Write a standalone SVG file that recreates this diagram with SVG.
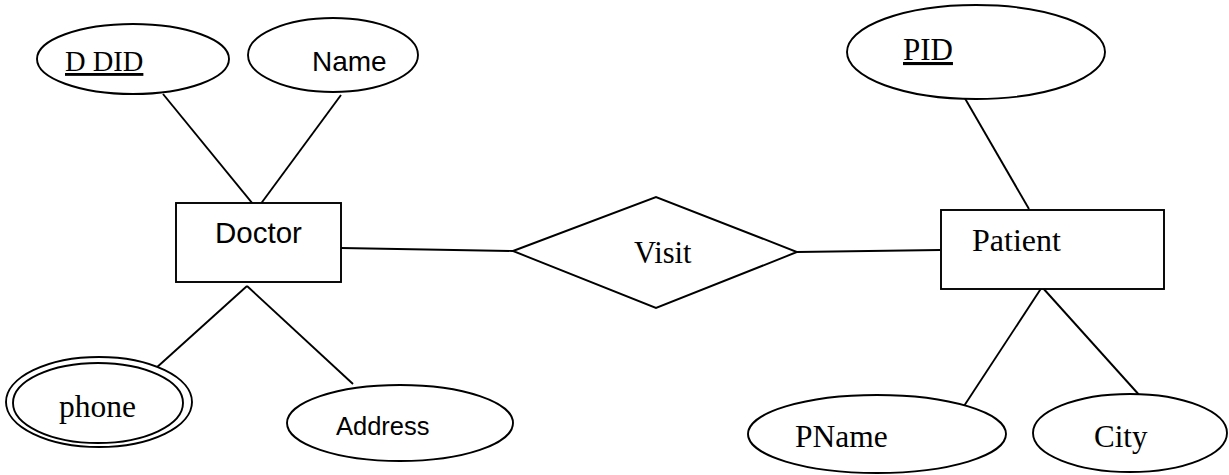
<svg xmlns="http://www.w3.org/2000/svg" width="1229" height="475" viewBox="0 0 1229 475">
<style>
.s{fill:none;stroke:#000;stroke-width:1.9}
.n{fill:#fff;stroke:#000;stroke-width:1.9}
.serif{font-family:"Liberation Serif","Times New Roman",serif;fill:#000}
.sans{font-family:"Liberation Sans",Arial,sans-serif;fill:#000}
</style>
<rect width="1229" height="475" fill="#fff"/>
<g id="connectors">
<line class="s" x1="163" y1="94" x2="257" y2="209"/>
<line class="s" x1="341" y1="95" x2="257" y2="209"/>
<line class="s" x1="247" y1="286" x2="155" y2="369"/>
<line class="s" x1="247" y1="286" x2="353" y2="384"/>
<line class="s" x1="341" y1="248" x2="513" y2="251"/>
<line class="s" x1="797" y1="252" x2="940" y2="250"/>
<line class="s" x1="963" y1="95" x2="1029" y2="209"/>
<line class="s" x1="1042" y1="287" x2="964" y2="406"/>
<line class="s" x1="1042" y1="287" x2="1141" y2="397"/>
</g>
<g id="ddid">
<ellipse class="n" cx="133" cy="59" rx="96" ry="35"/>
<text class="serif" x="65" y="71" font-size="28.5" text-decoration="underline">D DID</text>
</g>
<g id="name">
<ellipse class="n" cx="333" cy="55" rx="85" ry="37"/>
<text class="sans" x="312" y="71" font-size="28">Name</text>
</g>
<g id="doctor">
<rect class="n" x="176" y="203" width="165" height="79"/>
<text class="sans" x="215" y="243" font-size="29.5">Doctor</text>
</g>
<g id="phone">
<ellipse class="n" cx="99" cy="402" rx="93" ry="45"/>
<ellipse class="s" cx="98" cy="403" rx="85" ry="40"/>
<text class="serif" x="59" y="417" font-size="31.5">phone</text>
</g>
<g id="address">
<ellipse class="n" cx="400" cy="423" rx="113" ry="38"/>
<text class="sans" x="336" y="435" font-size="25.5">Address</text>
</g>
<g id="visit">
<polygon class="n" points="513,251 656,197 797,252 656,308"/>
<text class="serif" x="634" y="263" font-size="30.5">Visit</text>
</g>
<g id="patient">
<rect class="n" x="941" y="210" width="223" height="79"/>
<text class="serif" x="972" y="251" font-size="32">Patient</text>
</g>
<g id="pid">
<ellipse class="n" cx="976" cy="52" rx="129" ry="47"/>
<text class="serif" x="903" y="60" font-size="31" text-decoration="underline">PID</text>
</g>
<g id="pname">
<ellipse class="n" cx="877" cy="434" rx="129" ry="39"/>
<text class="serif" x="795" y="447" font-size="31.5">PName</text>
</g>
<g id="city">
<ellipse class="n" cx="1130" cy="433" rx="97" ry="39"/>
<text class="serif" x="1094" y="447" font-size="31">City</text>
</g>
</svg>
